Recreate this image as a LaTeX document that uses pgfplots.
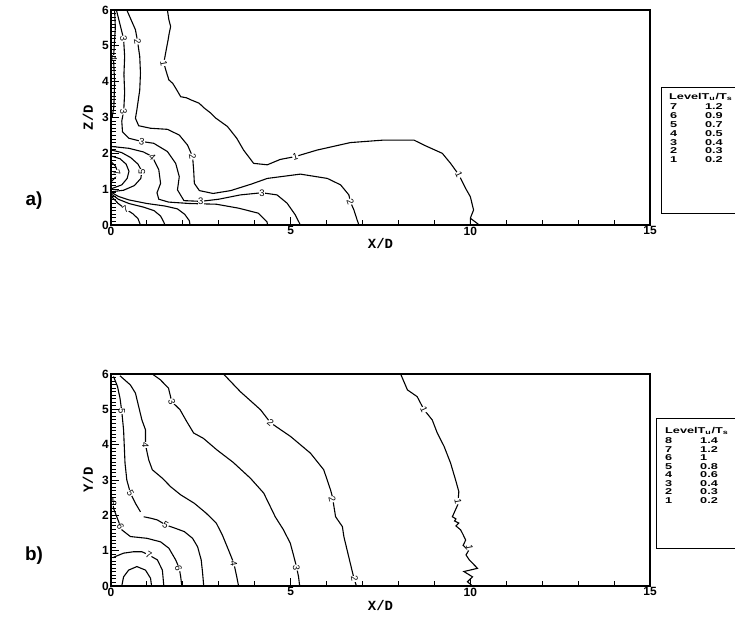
\documentclass[border=0pt]{standalone}
\usepackage{graphicx}
\usepackage{fontspec}
\setmainfont{Liberation Sans}
\newfontfamily\cour{Liberation Mono}
\usepackage{pgfplots}
\pgfplotsset{compat=1.18}
\newcommand\lgt[1]{\scalebox{1.5}[1]{#1}}
\tikzset{clab/.style={fill=white, inner sep=0.4bp, font=\fontsize{9.5}{9.5}\selectfont}}
\pgfplotsset{
  myax/.style={scale only axis, width=539bp, xmin=0,xmax=15,ymin=0,ymax=6,
    anchor=south west, axis on top,
    axis line style={line width=2.8bp},
    xtick={0,5,10,15}, minor x tick num=4, ytick={0,1,...,6}, minor y tick num=9,
    tick align=inside, xtick pos=left, ytick pos=left,
    major tick length=8bp, minor tick length=5bp,
    every tick/.style={black, line width=1bp},
    /pgf/number format/assume math mode=true,
    ticklabel style={font=\bfseries\fontsize{12}{12}\selectfont},
    xticklabel style={inner sep=1.5bp},
    yticklabel style={inner sep=2bp},
    label style={font=\cour\bfseries\fontsize{14}{14}\selectfont},
    every axis plot post/.append style={black, solid, line width=1.1bp, mark=none},
  },
}
\begin{document}
\begin{tikzpicture}
\useasboundingbox (0,0) rectangle (735bp,-618bp);
% ---------------- a) ----------------
\begin{axis}[myax, at={(111bp,-225bp)}, height=215bp,
  xlabel={X/D}, ylabel={Z/D},
  xlabel style={at={(axis description cs:0.5,-0.088)}, anchor=center},
  ylabel style={at={(axis description cs:-0.043,0.5)}, anchor=center}]
\addplot coordinates {(1.57,6.0) (1.61,5.73) (1.66,5.54) (1.62,5.35) (1.59,5.17) (1.52,4.80) (1.47,4.52) (1.55,4.24) (1.61,4.05) (1.72,3.95) (1.80,3.82) (1.94,3.58) (2.10,3.55) (2.23,3.49) (2.45,3.40) (2.60,3.26) (2.78,3.12) (2.92,2.98) (3.24,2.75) (3.50,2.42) (3.69,2.09) (3.97,1.72) (4.35,1.68) (4.71,1.83) (5.13,1.91) (5.73,2.09) (6.66,2.30) (7.59,2.37) (8.43,2.37) (8.71,2.23) (9.22,2.00) (9.45,1.72) (9.68,1.40) (9.87,1.02) (10.0,0.79) (10.09,0.42) (10.0,0.19) (10.0,0)};
\addplot coordinates {(10.0,0.19) (10.25,0)};
\addplot coordinates {(0.44,6.0) (0.54,5.77) (0.68,5.45) (0.74,5.12) (0.80,4.70) (0.82,4.24) (0.80,3.77) (0.72,3.21) (0.68,2.98) (0.77,2.77) (1.10,2.70) (1.57,2.67) (1.90,2.51) (2.13,2.23) (2.27,1.91) (2.30,1.54) (2.32,1.16) (2.46,0.96) (2.84,0.88) (3.33,0.96) (3.90,1.14) (4.35,1.30) (5.27,1.42) (6.02,1.30) (6.39,1.12) (6.62,0.84) (6.66,0.65) (6.76,0.42) (6.85,0.14) (6.90,0)};
\addplot coordinates {(0.15,6.0) (0.25,5.6) (0.35,5.2) (0.38,4.7) (0.36,4.2) (0.38,3.7) (0.36,3.3) (0.35,3.17) (0.30,2.9) (0.32,2.6) (0.5,2.42) (0.86,2.33) (1.19,2.28) (1.57,2.05) (1.80,1.72) (1.90,1.35) (1.85,0.98) (2.03,0.68) (2.5,0.66) (3.0,0.72) (3.6,0.84) (4.2,0.90) (4.62,0.84) (4.90,0.61) (5.13,0.28) (5.27,0)};
\addplot coordinates {(0.10,6.0) (0.12,5.5) (0.07,4.66) (0.10,4.0) (0.08,3.3) (0.03,3.0)};
\addplot coordinates {(0.03,2.19) (0.5,2.14) (0.9,2.04) (1.15,1.91) (1.33,1.54) (1.38,1.16) (1.28,0.90) (1.33,0.72) (1.6,0.64) (2.18,0.60) (2.93,0.58) (3.55,0.47) (4.1,0.33) (4.34,0.09) (4.36,0)};
\addplot coordinates {(0.02,2.09) (0.3,2.02) (0.55,1.88) (0.75,1.7) (0.86,1.5) (0.83,1.3) (0.65,1.1) (0.35,0.97) (0.03,0.93)};
\addplot coordinates {(0.03,0.90) (0.2,0.80) (0.5,0.70) (1.0,0.60) (1.5,0.53) (1.85,0.45) (2.05,0.30) (2.18,0.12) (2.2,0)};
\addplot coordinates {(0.02,1.92) (0.25,1.85) (0.42,1.7) (0.5,1.5) (0.45,1.3) (0.3,1.12) (0.03,1.02)};
\addplot coordinates {(0.03,0.85) (0.2,0.72) (0.5,0.60) (0.9,0.50) (1.2,0.40) (1.38,0.25) (1.47,0.08) (1.5,0)};
\addplot coordinates {(0.02,1.75) (0.12,1.65) (0.18,1.5) (0.12,1.33) (0.02,1.22)};
\addplot coordinates {(0.03,0.78) (0.2,0.60) (0.4,0.45) (0.6,0.32) (0.75,0.18) (0.82,0)};
% labels
\node[clab, rotate=-80] at (axis cs:1.47,4.52) {1};
\node[clab, rotate=15] at (axis cs:5.13,1.91) {1};
\node[clab, rotate=-65] at (axis cs:9.68,1.40) {1};
\node[clab, rotate=-80] at (axis cs:0.74,5.12) {2};
\node[clab, rotate=-80] at (axis cs:2.27,1.91) {2};
\node[clab, rotate=-70] at (axis cs:6.66,0.65) {2};
\node[clab, rotate=-80] at (axis cs:0.35,5.2) {3};
\node[clab, rotate=-80] at (axis cs:0.35,3.17) {3};
\node[clab, rotate=-10] at (axis cs:0.86,2.33) {3};
\node[clab] at (axis cs:2.5,0.66) {3};
\node[clab] at (axis cs:4.2,0.90) {3};
\node[clab, rotate=-90] at (axis cs:0.07,4.66) {4};
\node[clab, rotate=-45] at (axis cs:1.15,1.91) {4};
\node[clab, rotate=90] at (axis cs:0.86,1.48) {5};
\node[clab, rotate=-70] at (axis cs:0.16,1.45) {7};
\node[clab, rotate=35] at (axis cs:0.4,0.45) {7};
\end{axis}
% ---------------- b) ----------------
\begin{axis}[myax, at={(111bp,-586bp)}, height=212bp,
  xlabel={X/D}, ylabel={Y/D},
  xlabel style={at={(axis description cs:0.5,-0.094)}, anchor=center},
  ylabel style={at={(axis description cs:-0.043,0.5)}, anchor=center}]
\addplot coordinates {(8.06,6.0) (8.25,5.55) (8.52,5.36) (8.71,4.99) (8.94,4.70) (9.08,4.33) (9.27,3.95) (9.45,3.48) (9.59,3.00) (9.68,2.67) (9.65,2.3) (9.50,1.96) (9.60,1.90) (9.56,1.84) (9.68,1.78) (9.60,1.70) (9.73,1.59) (9.80,1.45) (9.87,1.30) (9.80,1.15) (9.95,1.0) (9.88,0.88) (9.97,0.74) (10.2,0.5) (9.82,0.41) (10.06,0.26) (9.92,0.12) (10.06,0)};
\addplot coordinates {(3.13,6.0) (3.6,5.5) (4.16,4.99) (4.44,4.62) (5.0,4.23) (5.55,3.76) (5.92,3.29) (6.11,2.72) (6.16,2.53) (6.25,1.96) (6.44,1.68) (6.48,1.40) (6.57,1.02) (6.66,0.64) (6.76,0.22) (6.83,0)};
\addplot coordinates {(1.15,6.0) (1.37,5.84) (1.60,5.60) (1.69,5.22) (1.92,4.99) (2.11,4.65) (2.30,4.33) (2.57,4.18) (2.95,3.85) (3.4,3.5) (3.88,3.05) (4.25,2.63) (4.48,2.15) (4.57,1.96) (4.80,1.59) (4.99,1.21) (5.09,0.83) (5.16,0.55) (5.22,0.26) (5.25,0)};
\addplot coordinates {(0.25,5.95) (0.54,5.69) (0.68,5.46) (0.77,5.08) (0.86,4.70) (0.96,4.42) (0.96,3.99) (1.05,3.57) (1.15,3.29) (1.43,3.05) (1.66,2.81) (1.94,2.58) (2.32,2.34) (2.65,2.06) (2.93,1.78) (3.10,1.44) (3.27,1.02) (3.42,0.64) (3.50,0.26) (3.55,0)};
\addplot coordinates {(0.07,5.93) (0.18,5.65) (0.25,5.32) (0.30,4.94) (0.35,4.42) (0.37,3.95) (0.39,3.48) (0.44,3.00) (0.54,2.63) (0.68,2.34) (0.82,2.10)};
\addplot coordinates {(0.91,1.96) (1.1,1.92) (1.29,1.87) (1.52,1.73) (1.80,1.63) (2.04,1.54) (2.27,1.35) (2.41,1.11) (2.51,0.74) (2.55,0.36) (2.58,0)};
\addplot coordinates {(0.05,2.5) (0.07,2.2) (0.16,1.96) (0.30,1.59) (0.54,1.40) (1.0,1.35) (1.38,1.25) (1.61,1.07) (1.80,0.74) (1.90,0.50) (1.94,0.26) (1.97,0)};
\addplot coordinates {(0.05,0.80) (0.11,0.83) (0.35,0.93) (0.63,0.97) (0.86,0.97) (1.05,0.88) (1.29,0.74) (1.43,0.45) (1.47,0)};
\addplot coordinates {(0.3,0) (0.35,0.26) (0.49,0.45) (0.72,0.55) (0.96,0.45) (1.10,0.22) (1.13,0)};
% labels
\node[clab, rotate=-65] at (axis cs:8.71,4.99) {1};
\node[clab, rotate=-80] at (axis cs:9.66,2.40) {1};
\node[clab, rotate=-80] at (axis cs:9.98,1.10) {1};
\node[clab, rotate=-40] at (axis cs:4.44,4.62) {2};
\node[clab, rotate=-75] at (axis cs:6.16,2.45) {2};
\node[clab, rotate=-80] at (axis cs:6.78,0.20) {2};
\node[clab, rotate=-70] at (axis cs:1.69,5.22) {3};
\node[clab, rotate=-85] at (axis cs:5.16,0.52) {3};
\node[clab, rotate=-90] at (axis cs:0.96,3.99) {4};
\node[clab, rotate=-80] at (axis cs:3.42,0.64) {4};
\node[clab, rotate=-90] at (axis cs:0.30,4.94) {5};
\node[clab, rotate=-60] at (axis cs:0.54,2.63) {5};
\node[clab, rotate=-30] at (axis cs:1.52,1.73) {5};
\node[clab, rotate=-90] at (axis cs:0.06,2.35) {6};
\node[clab, rotate=-65] at (axis cs:0.26,1.68) {6};
\node[clab, rotate=-75] at (axis cs:1.88,0.50) {6};
\node[clab, rotate=-30] at (axis cs:1.05,0.88) {7};
\end{axis}
% panel letters
\node[font=\bfseries\fontsize{19}{19}\selectfont] at (34bp,-201bp) {a)};
\node[font=\bfseries\fontsize{19}{19}\selectfont] at (34bp,-556bp) {b)};
% legend a
\draw[line width=0.9bp] (661bp,-87.3bp) rectangle (745bp,-213.3bp);
\begin{scope}[every node/.style={font=\bfseries\fontsize{8.5}{8.5}\selectfont, inner sep=0pt}]
\node[anchor=west] at (669bp,-97bp) {\lgt{LevelT\textsubscript{u}/T\textsubscript{s}}};
\foreach \n/\v/\y in {7/1.2/107, 6/0.9/115.8, 5/0.7/124.6, 4/0.5/133.4, 3/0.4/142.2, 2/0.3/151, 1/0.2/159.8}{
  \node[anchor=west] at (670bp,-\y bp) {\lgt{\n}};
  \node[anchor=east] at (723bp,-\y bp) {\lgt{\v}};
}
\end{scope}
% legend b
\draw[line width=0.9bp] (656bp,-418bp) rectangle (745bp,-548bp);
\begin{scope}[every node/.style={font=\bfseries\fontsize{8.5}{8.5}\selectfont, inner sep=0pt}]
\node[anchor=west] at (665bp,-431bp) {\lgt{LevelT\textsubscript{u}/T\textsubscript{s}}};
\foreach \n/\v/\y in {8/1.4/441, 7/1.2/449.5, 6/1/458, 5/0.8/466.5, 4/0.6/475, 3/0.4/483.5, 2/0.3/492, 1/0.2/500.5}{
  \node[anchor=west] at (665bp,-\y bp) {\lgt{\n}};
  \node[anchor=west] at (700bp,-\y bp) {\lgt{\v}};
}
\end{scope}
\end{tikzpicture}
\end{document}
